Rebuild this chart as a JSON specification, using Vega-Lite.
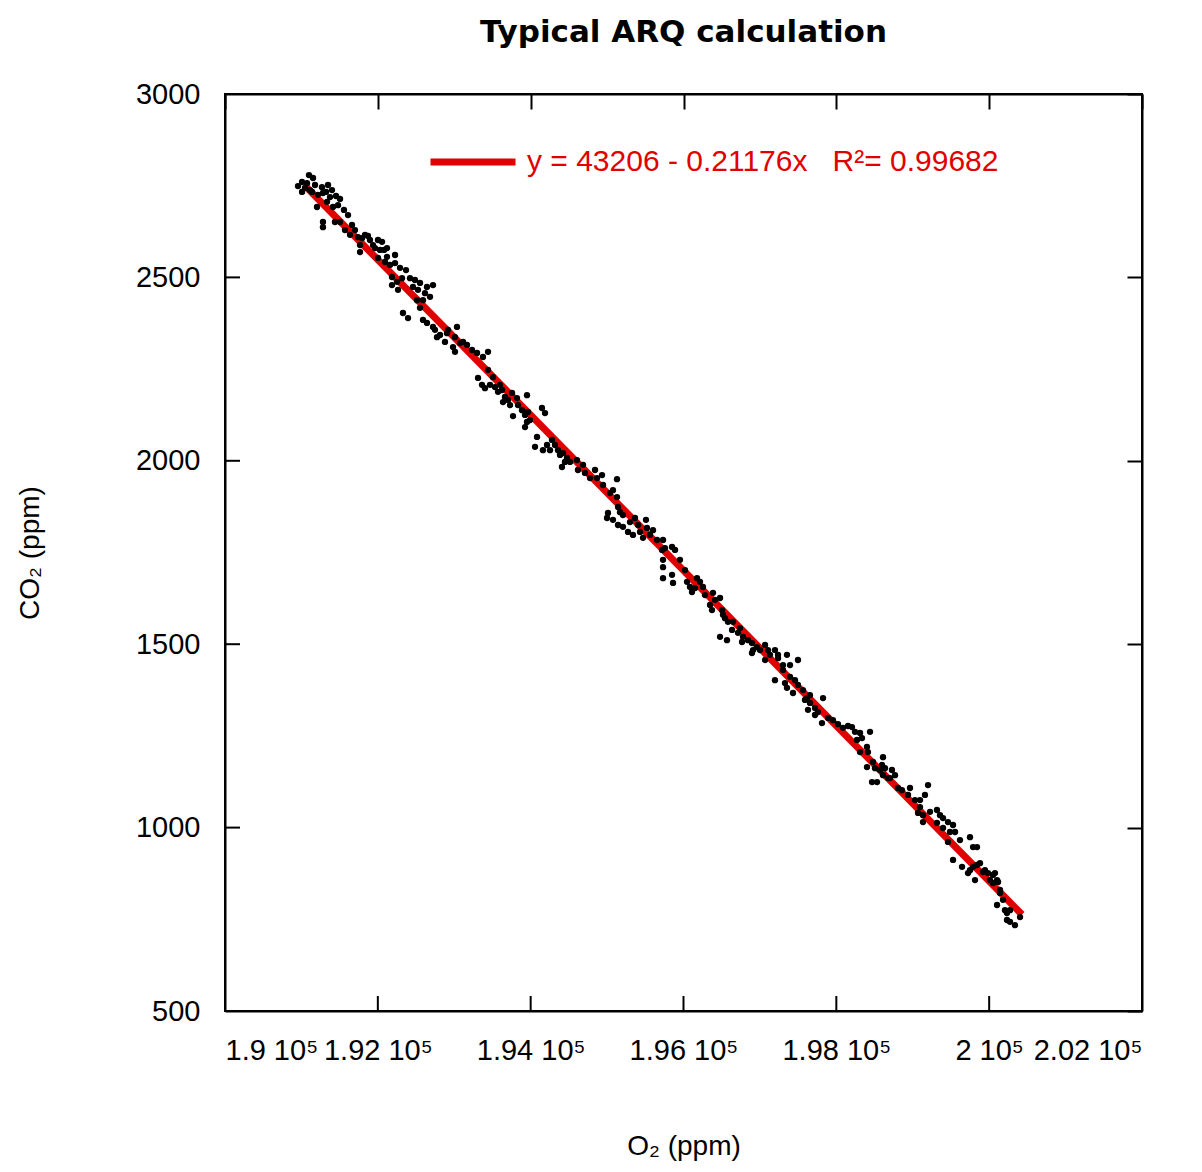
{
  "$schema": "https://vega.github.io/schema/vega-lite/v6.json",
  "autosize": "none",
  "width": 917,
  "height": 917,
  "padding": {"left": 225, "top": 94, "right": 60, "bottom": 161},
  "background": "white",
  "title": {"text": "Typical ARQ calculation", "fontSize": 31, "fontWeight": "bold", "font": "DejaVu Sans", "color": "black", "offset": 31, "anchor": "middle"},
  "config": {
    "view": {"stroke": "black", "strokeWidth": 2},
    "axis": {"grid": false, "zindex": 2, "domainColor": "black", "domainWidth": 2, "tickColor": "black", "tickWidth": 2, "labelFont": "Liberation Sans", "labelFontSize": 29, "labelColor": "black", "titleFont": "Liberation Sans", "titleFontSize": 28, "titleFontWeight": "normal", "titleColor": "black"}
  },
  "datasets": {
    "pts": [
      {"O2":191008,"CO2":2760},{"O2":191099,"CO2":2779},{"O2":191152,"CO2":2771},{"O2":191008,"CO2":2733},{"O2":191073,"CO2":2757},{"O2":191139,"CO2":2733},{"O2":191178,"CO2":2752},{"O2":191269,"CO2":2746},{"O2":191282,"CO2":2730},{"O2":191348,"CO2":2752},{"O2":191400,"CO2":2738},{"O2":191374,"CO2":2719},{"O2":191335,"CO2":2706},{"O2":191413,"CO2":2692},{"O2":191505,"CO2":2714},{"O2":191204,"CO2":2692},{"O2":191282,"CO2":2651},{"O2":191282,"CO2":2637},{"O2":191439,"CO2":2651},{"O2":191505,"CO2":2651},{"O2":191610,"CO2":2670},{"O2":191570,"CO2":2629},{"O2":191636,"CO2":2616},{"O2":191740,"CO2":2610},{"O2":191832,"CO2":2616},{"O2":191767,"CO2":2588},{"O2":191767,"CO2":2569},{"O2":191897,"CO2":2602},{"O2":191937,"CO2":2588},{"O2":192002,"CO2":2602},{"O2":192055,"CO2":2597},{"O2":192028,"CO2":2575},{"O2":192002,"CO2":2553},{"O2":192120,"CO2":2580},{"O2":192120,"CO2":2556},{"O2":192159,"CO2":2534},{"O2":192225,"CO2":2561},{"O2":192225,"CO2":2539},{"O2":192185,"CO2":2501},{"O2":192185,"CO2":2479},{"O2":192251,"CO2":2488},{"O2":192264,"CO2":2466},{"O2":192369,"CO2":2520},{"O2":192421,"CO2":2498},{"O2":192460,"CO2":2474},{"O2":192552,"CO2":2485},{"O2":192643,"CO2":2474},{"O2":192722,"CO2":2479},{"O2":192513,"CO2":2438},{"O2":192591,"CO2":2438},{"O2":192552,"CO2":2417},{"O2":192329,"CO2":2403},{"O2":192395,"CO2":2389},{"O2":192591,"CO2":2384},{"O2":192643,"CO2":2376},{"O2":192722,"CO2":2365},{"O2":192774,"CO2":2337},{"O2":192918,"CO2":2357},{"O2":193036,"CO2":2365},{"O2":193115,"CO2":2324},
      {"O2":190955,"CO2":2749},{"O2":191047,"CO2":2744},{"O2":191112,"CO2":2738},{"O2":191217,"CO2":2725},{"O2":191322,"CO2":2733},{"O2":191453,"CO2":2722},{"O2":191479,"CO2":2697},{"O2":191557,"CO2":2684},{"O2":191662,"CO2":2643},{"O2":191701,"CO2":2629},{"O2":191793,"CO2":2607},{"O2":191871,"CO2":2613},{"O2":191963,"CO2":2580},{"O2":192081,"CO2":2575},{"O2":192094,"CO2":2542},{"O2":192290,"CO2":2526},{"O2":192316,"CO2":2498},{"O2":192486,"CO2":2493},{"O2":192526,"CO2":2466},{"O2":192617,"CO2":2457},{"O2":192683,"CO2":2447},{"O2":192748,"CO2":2357},{"O2":192814,"CO2":2343},
      {"O2":192905,"CO2":2348},{"O2":193010,"CO2":2337},{"O2":193075,"CO2":2321},{"O2":192984,"CO2":2310},{"O2":193010,"CO2":2297},{"O2":192879,"CO2":2324},{"O2":193232,"CO2":2302},{"O2":193298,"CO2":2294},{"O2":193376,"CO2":2283},{"O2":193442,"CO2":2297},{"O2":193442,"CO2":2248},{"O2":193507,"CO2":2228},{"O2":193311,"CO2":2226},{"O2":193363,"CO2":2207},{"O2":193402,"CO2":2198},{"O2":193468,"CO2":2207},{"O2":193533,"CO2":2201},{"O2":193573,"CO2":2188},{"O2":193625,"CO2":2193},{"O2":193664,"CO2":2174},{"O2":193638,"CO2":2160},{"O2":193703,"CO2":2166},{"O2":193756,"CO2":2185},{"O2":193821,"CO2":2171},{"O2":193834,"CO2":2152},{"O2":193887,"CO2":2138},{"O2":193952,"CO2":2179},{"O2":193926,"CO2":2125},{"O2":193965,"CO2":2133},{"O2":193952,"CO2":2106},{"O2":193926,"CO2":2092},{"O2":193769,"CO2":2122},{"O2":194148,"CO2":2144},{"O2":194188,"CO2":2130},{"O2":194083,"CO2":2065},{"O2":194057,"CO2":2038},{"O2":194161,"CO2":2029},{"O2":194214,"CO2":2043},{"O2":194279,"CO2":2057},{"O2":194358,"CO2":2029},{"O2":194384,"CO2":2016},{"O2":194423,"CO2":2021},{"O2":194475,"CO2":2008},{"O2":194410,"CO2":1983},{"O2":194515,"CO2":1997},{"O2":194606,"CO2":2002},{"O2":194619,"CO2":1975},
      {"O2":193167,"CO2":2316},{"O2":193599,"CO2":2207},{"O2":193730,"CO2":2152},{"O2":193991,"CO2":2111},{"O2":194253,"CO2":2029},{"O2":194318,"CO2":2043},{"O2":194449,"CO2":1997},{"O2":194777,"CO2":1953},{"O2":194842,"CO2":1975},{"O2":195038,"CO2":1912},{"O2":195169,"CO2":1860},{"O2":195405,"CO2":1825},{"O2":195562,"CO2":1798},{"O2":195758,"CO2":1762},{"O2":196020,"CO2":1702},{"O2":196151,"CO2":1653},{"O2":196412,"CO2":1621},{"O2":196543,"CO2":1571},{"O2":196739,"CO2":1544},{"O2":196962,"CO2":1492},{"O2":197132,"CO2":1471},{"O2":197459,"CO2":1402},{"O2":197590,"CO2":1348},{"O2":197760,"CO2":1315},{"O2":198022,"CO2":1282},{"O2":198153,"CO2":1277},{"O2":198270,"CO2":1239},{"O2":198506,"CO2":1162},{"O2":198702,"CO2":1135},{"O2":198859,"CO2":1102},{"O2":199029,"CO2":1075},{"O2":199226,"CO2":1043},{"O2":199487,"CO2":988},{"O2":199618,"CO2":966},{"O2":199945,"CO2":884},{"O2":200181,"CO2":803},
      {"O2":194685,"CO2":1989},{"O2":194711,"CO2":1967},{"O2":194868,"CO2":1953},{"O2":194934,"CO2":1961},{"O2":194947,"CO2":1934},{"O2":195077,"CO2":1920},{"O2":195130,"CO2":1950},{"O2":195130,"CO2":1901},{"O2":195143,"CO2":1874},{"O2":195208,"CO2":1852},{"O2":195012,"CO2":1858},{"O2":194999,"CO2":1844},{"O2":195077,"CO2":1839},{"O2":195143,"CO2":1825},{"O2":195208,"CO2":1820},{"O2":195300,"CO2":1833},{"O2":195365,"CO2":1844},{"O2":195274,"CO2":1806},{"O2":195339,"CO2":1798},{"O2":195431,"CO2":1806},{"O2":195470,"CO2":1790},{"O2":195522,"CO2":1817},{"O2":195509,"CO2":1839},{"O2":195601,"CO2":1811},{"O2":195653,"CO2":1784},{"O2":195732,"CO2":1784},{"O2":195719,"CO2":1757},{"O2":195732,"CO2":1730},{"O2":195732,"CO2":1710},{"O2":195850,"CO2":1765},{"O2":195889,"CO2":1757},{"O2":195954,"CO2":1730},{"O2":195732,"CO2":1680},{"O2":195850,"CO2":1689},{"O2":195863,"CO2":1667},{"O2":196046,"CO2":1670},{"O2":196085,"CO2":1656},{"O2":196111,"CO2":1642},{"O2":196177,"CO2":1680},{"O2":196216,"CO2":1670},
      {"O2":196255,"CO2":1656},{"O2":196281,"CO2":1634},{"O2":196386,"CO2":1640},{"O2":196478,"CO2":1626},{"O2":196347,"CO2":1607},{"O2":196373,"CO2":1593},{"O2":196504,"CO2":1593},{"O2":196517,"CO2":1580},{"O2":196582,"CO2":1561},{"O2":196648,"CO2":1561},{"O2":196635,"CO2":1539},{"O2":196478,"CO2":1520},{"O2":196569,"CO2":1511},{"O2":196713,"CO2":1531},{"O2":196779,"CO2":1520},{"O2":196766,"CO2":1506},{"O2":196844,"CO2":1511},{"O2":196896,"CO2":1503},{"O2":196910,"CO2":1484},{"O2":196896,"CO2":1476},{"O2":197001,"CO2":1484},{"O2":197067,"CO2":1498},{"O2":197106,"CO2":1484},{"O2":197067,"CO2":1457},{"O2":197197,"CO2":1484},{"O2":197237,"CO2":1471},{"O2":197237,"CO2":1462},{"O2":197354,"CO2":1471},{"O2":197498,"CO2":1457},{"O2":197302,"CO2":1443},{"O2":197394,"CO2":1443},{"O2":197302,"CO2":1430},{"O2":197197,"CO2":1402},{"O2":197394,"CO2":1411},{"O2":197328,"CO2":1394},{"O2":197354,"CO2":1381},{"O2":197433,"CO2":1367},{"O2":197498,"CO2":1389},{"O2":197564,"CO2":1375},{"O2":197616,"CO2":1353},{"O2":197655,"CO2":1361},{"O2":197655,"CO2":1340},{"O2":197721,"CO2":1326},{"O2":197629,"CO2":1321},{"O2":197826,"CO2":1353},{"O2":197721,"CO2":1307},{"O2":197812,"CO2":1285},{"O2":197891,"CO2":1299},
      {"O2":197956,"CO2":1293},{"O2":198087,"CO2":1272},{"O2":198205,"CO2":1274},{"O2":198244,"CO2":1261},{"O2":198310,"CO2":1258},{"O2":198336,"CO2":1244},{"O2":198441,"CO2":1261},{"O2":198401,"CO2":1220},{"O2":198414,"CO2":1206},{"O2":198310,"CO2":1206},{"O2":198480,"CO2":1179},{"O2":198401,"CO2":1165},{"O2":198611,"CO2":1192},{"O2":198598,"CO2":1171},{"O2":198571,"CO2":1157},{"O2":198637,"CO2":1162},{"O2":198728,"CO2":1157},{"O2":198768,"CO2":1143},{"O2":198467,"CO2":1124},{"O2":198532,"CO2":1124},{"O2":198611,"CO2":1143},{"O2":198676,"CO2":1135},{"O2":198807,"CO2":1108},{"O2":198964,"CO2":1108},{"O2":198938,"CO2":1089},{"O2":199200,"CO2":1116},{"O2":199160,"CO2":1089},{"O2":199095,"CO2":1075},{"O2":199095,"CO2":1056},{"O2":199069,"CO2":1040},{"O2":199134,"CO2":1034},{"O2":199134,"CO2":1015},{"O2":199317,"CO2":1048},{"O2":199357,"CO2":1034},{"O2":199396,"CO2":1026},{"O2":199317,"CO2":1013},{"O2":199461,"CO2":1015},{"O2":199527,"CO2":1007},{"O2":199396,"CO2":999},{"O2":199553,"CO2":988},{"O2":199461,"CO2":961},{"O2":199749,"CO2":974},{"O2":199789,"CO2":947},{"O2":199841,"CO2":947},{"O2":199527,"CO2":912},{"O2":199645,"CO2":893},{"O2":199749,"CO2":884},{"O2":199789,"CO2":893},{"O2":199841,"CO2":898},{"O2":199880,"CO2":903},{"O2":199723,"CO2":876},{"O2":199815,"CO2":857},{"O2":199919,"CO2":879},{"O2":199985,"CO2":876},{"O2":200050,"CO2":871},{"O2":200011,"CO2":857},{"O2":200076,"CO2":876},{"O2":200103,"CO2":857},{"O2":200116,"CO2":852},{"O2":200050,"CO2":849},{"O2":200142,"CO2":830},{"O2":200142,"CO2":822},{"O2":200103,"CO2":789},{"O2":200207,"CO2":775},{"O2":200273,"CO2":775},{"O2":200233,"CO2":767},{"O2":200404,"CO2":756},{"O2":200233,"CO2":748},{"O2":200273,"CO2":743},{"O2":200338,"CO2":734}
    ],
    "fit": [
      {"O2": 191047, "CO2": 2750, "series": "y = 43206 - 0.21176x\u00a0\u00a0\u00a0R²= 0.99682"},
      {"O2": 200430, "CO2": 763, "series": "y = 43206 - 0.21176x\u00a0\u00a0\u00a0R²= 0.99682"}
    ],
    "xticks": [{"O2": 192000}, {"O2": 194000}, {"O2": 196000}, {"O2": 198000}, {"O2": 200000}],
    "yticks": [{"CO2": 1000}, {"CO2": 1500}, {"CO2": 2000}, {"CO2": 2500}]
  },
  "layer": [
    {
      "data": {"name": "fit"},
      "mark": {"type": "line", "strokeWidth": 7, "clip": false},
      "encoding": {
        "x": {"field": "O2", "type": "quantitative", "scale": {"domain": [190000, 202000], "nice": false, "zero": false},
              "axis": {"orient": "top", "labels": false, "title": null, "ticks": true, "tickSize": -15, "values": [190000,192000,194000,196000,198000,200000,202000]}},
        "y": {"field": "CO2", "type": "quantitative", "scale": {"domain": [500, 3000], "nice": false, "zero": false},
              "axis": {"orient": "right", "labels": false, "title": null, "ticks": true, "tickSize": -15, "values": [500,1000,1500,2000,2500,3000]}},
        "color": {"field": "series", "type": "nominal", "scale": {"range": ["#e00000"]},
                  "legend": {"orient": "none", "legendX": 202, "legendY": 22, "title": null, "symbolType": "stroke", "symbolSize": 7225, "symbolStrokeWidth": 7, "labelFont": "Liberation Sans", "labelFontSize": 30, "labelColor": "#e00000", "labelOffset": 8, "labelLimit": 0}}
      }
    },
    {
      "data": {"name": "xticks"},
      "mark": {"type": "rule", "color": "black", "strokeWidth": 2},
      "encoding": {
        "x": {"field": "O2", "type": "quantitative", "axis": null},
        "y": {"datum": 500, "type": "quantitative", "axis": null},
        "y2": {"datum": 541}
      }
    },
    {
      "data": {"name": "yticks"},
      "mark": {"type": "rule", "color": "black", "strokeWidth": 2},
      "encoding": {
        "y": {"field": "CO2", "type": "quantitative", "axis": null},
        "x": {"datum": 190000, "type": "quantitative", "axis": null},
        "x2": {"datum": 190196}
      }
    },
    {
      "data": {"name": "pts"},
      "mark": {"type": "point", "filled": true, "color": "black", "size": 40, "opacity": 1},
      "encoding": {
        "x": {"field": "O2", "type": "quantitative",
              "axis": {"orient": "bottom", "title": "O₂ (ppm)", "titlePadding": 67, "ticks": false, "labelPadding": 25, "values": [190000,192000,194000,196000,198000,200000,202000],
                       "labelExpr": "toString(round(datum.value/100)/1000) + ' 10⁵'"}},
        "y": {"field": "CO2", "type": "quantitative",
              "axis": {"orient": "left", "title": "CO₂ (ppm)", "titlePadding": 91, "ticks": false, "labelPadding": 25, "format": "d", "values": [500,1000,1500,2000,2500,3000]}}
      }
    }
  ],
  "resolve": {"axis": {"x": "independent", "y": "independent"}}
}
